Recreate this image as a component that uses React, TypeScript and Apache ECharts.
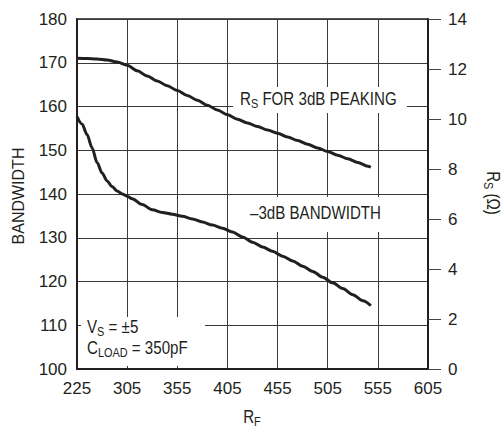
import React, { useEffect, useRef } from "react";
import * as echarts from "echarts";

// X axis: seven equal columns; tick labels as printed on the original chart
const xStart = 255;
const xStep = 50;
const xTickLabels = ["225", "305", "355", "405", "455", "505", "555", "605"];

// R_S for 3dB peaking (right axis, ohms) vs R_F
const rsRf = [255, 265, 275, 285, 295, 305, 315, 325, 335, 345, 355, 365, 375, 385, 395, 405, 415, 425, 435, 445, 455, 465, 475, 485, 495, 505, 515, 525, 535, 545, 548];
const rsVal = [12.43, 12.42, 12.4, 12.36, 12.28, 12.15, 11.93, 11.72, 11.52, 11.33, 11.14, 10.94, 10.75, 10.55, 10.36, 10.17, 9.99, 9.84, 9.7, 9.56, 9.43, 9.28, 9.14, 8.99, 8.84, 8.7, 8.55, 8.41, 8.26, 8.11, 8.07];

// -3dB bandwidth (left axis) vs R_F
const bwRf = [255, 260, 265, 270, 275, 280, 285, 290, 295, 300, 305, 310, 320, 330, 340, 350, 360, 370, 380, 390, 400, 410, 420, 430, 440, 450, 460, 470, 480, 490, 500, 510, 520, 530, 540, 548];
const bwVal = [157.7, 156.0, 153.6, 150.6, 147.2, 144.8, 143.0, 141.7, 140.7, 140.0, 139.5, 138.9, 137.6, 136.4, 135.8, 135.4, 134.9, 134.3, 133.6, 132.9, 132.2, 131.3, 130.2, 129.0, 127.9, 126.9, 125.8, 124.7, 123.5, 122.3, 121.0, 119.7, 118.4, 117.0, 115.6, 114.5];

const FONT = "'Liberation Sans', Arial, sans-serif";
const INK = "#231f20";
const SQ = 0.84; // horizontal squeeze to mimic the condensed face

const sub = {
  r: { fontFamily: FONT, fontSize: 18, fill: INK },
  s: { fontFamily: FONT, fontSize: 13, fill: INK, padding: [9, 0, 0, 0] },
};

export default function App() {
  const ref = useRef<HTMLDivElement>(null);
  useEffect(() => {
    if (!ref.current) return;
    const chart = echarts.init(ref.current, undefined, { renderer: "svg" });
    const rsData = rsRf.map((x, i) => [x - xStart, rsVal[i]]);
    const bwData = bwRf.map((x, i) => [x - xStart, bwVal[i]]);
    chart.setOption({
      animation: false,
      backgroundColor: "#ffffff",
      textStyle: { fontFamily: FONT, color: INK },
      grid: {
        left: 77,
        right: 76,
        top: 19,
        bottom: 59,
        show: true,
        borderColor: INK,
        borderWidth: 1.5,
      },
      xAxis: {
        type: "value",
        min: 0,
        max: (xTickLabels.length - 1) * xStep,
        interval: xStep,
        axisLine: { show: true, lineStyle: { color: INK, width: 2 } },
        axisTick: { show: false },
        splitLine: { show: true, lineStyle: { color: "#3a3a3a", width: 1 } },
        axisLabel: {
          fontFamily: FONT,
          fontSize: 17,
          color: INK,
          margin: 11,
          formatter: (v: number) => xTickLabels[Math.round(v / xStep)] ?? "",
        },
      },
      yAxis: [
        {
          type: "value",
          min: 100,
          max: 180,
          interval: 10,
          position: "left",
          axisLine: { show: true, lineStyle: { color: INK, width: 2 } },
          axisTick: { show: false },
          splitLine: { show: true, lineStyle: { color: "#3a3a3a", width: 1 } },
          axisLabel: { fontFamily: FONT, fontSize: 17, color: INK, margin: 10 },
        },
        {
          type: "value",
          min: 0,
          max: 14,
          interval: 2,
          position: "right",
          axisLine: { show: true, lineStyle: { color: INK, width: 2 } },
          axisTick: { show: true, inside: false, length: 13, lineStyle: { color: "#444", width: 1 } },
          splitLine: { show: false },
          axisLabel: { fontFamily: FONT, fontSize: 17, color: INK, margin: 20 },
        },
      ],
      series: [
        {
          type: "line",
          name: "RS FOR 3dB PEAKING",
          yAxisIndex: 1,
          data: rsData,
          smooth: 0.3,
          smoothMonotone: "x",
          symbol: "none",
          lineStyle: { color: INK, width: 3 },
          z: 5,
        },
        {
          type: "line",
          name: "-3dB BANDWIDTH",
          yAxisIndex: 0,
          data: bwData,
          smooth: 0.3,
          smoothMonotone: "x",
          symbol: "none",
          lineStyle: { color: INK, width: 3 },
          z: 5,
        },
      ],
      graphic: [
        { type: "rect", z: 3, shape: { x: 233, y: 87, width: 174, height: 26 }, style: { fill: "#fff" } },
        {
          type: "text",
          z: 4,
          x: 240,
          y: 99,
          scaleX: SQ,
          style: { text: "{r|R}{s|S}{r| FOR 3dB PEAKING}", verticalAlign: "middle", rich: sub },
        },
        { type: "rect", z: 3, shape: { x: 240, y: 197, width: 158, height: 35 }, style: { fill: "#fff" } },
        {
          type: "text",
          z: 4,
          x: 250,
          y: 213,
          scaleX: SQ,
          style: { text: "–3dB BANDWIDTH", fontFamily: FONT, fontSize: 18, fill: INK, verticalAlign: "middle" },
        },
        { type: "rect", z: 3, shape: { x: 81, y: 317, width: 124, height: 49 }, style: { fill: "#fff" } },
        {
          type: "text",
          z: 4,
          x: 87,
          y: 327,
          scaleX: SQ,
          style: { text: "{r|V}{s|S}{r| = ±5}", verticalAlign: "middle", rich: sub },
        },
        {
          type: "text",
          z: 4,
          x: 87,
          y: 348,
          scaleX: SQ,
          style: { text: "{r|C}{s|LOAD}{r| = 350pF}", verticalAlign: "middle", rich: sub },
        },
        {
          type: "text",
          z: 4,
          x: 18,
          y: 196,
          rotation: Math.PI / 2,
          style: {
            text: "BANDWIDTH",
            fontFamily: FONT,
            fontSize: 16,
            fill: INK,
            align: "center",
            verticalAlign: "middle",
          },
        },
        {
          type: "text",
          z: 4,
          x: 493,
          y: 193,
          rotation: -Math.PI / 2,
          scaleX: SQ,
          style: { text: "{r|R}{s|S}{r| (Ω)}", align: "center", verticalAlign: "middle", rich: sub },
        },
        {
          type: "text",
          z: 4,
          x: 252,
          y: 417,
          scaleX: SQ,
          style: { text: "{r|R}{s|F}", align: "center", verticalAlign: "middle", rich: sub },
        },
      ],
    });
    return () => chart.dispose();
  }, []);
  return (
    <div
      ref={ref}
      style={{ position: "absolute", left: 0, top: 0, width: 504, height: 428 }}
    />
  );
}
